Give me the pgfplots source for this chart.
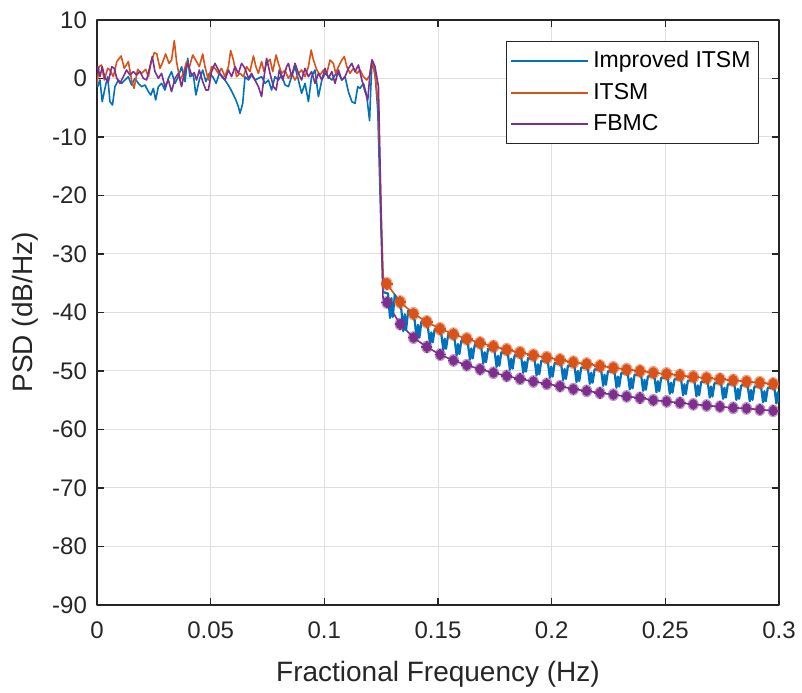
\documentclass[border=0pt]{standalone}
\usepackage{fontspec}
\setmainfont{Liberation Sans}
\usepackage{pgfplots}
\usepackage{pgfplotstable}
\pgfplotsset{compat=1.18}
\definecolor{mblue}{rgb}{0,0.447,0.741}
\definecolor{morange}{rgb}{0.850,0.325,0.098}
\definecolor{mpurple}{rgb}{0.494,0.184,0.556}
\definecolor{axgray}{rgb}{0.15,0.15,0.15}
\definecolor{gridgray}{rgb}{0.875,0.875,0.875}
\pgfplotstableread{
f v
0.1275 -35.1
0.13336 -38.2
0.13922 -40.2
0.14508 -41.6
0.15094 -42.8
0.1568 -43.7
0.16266 -44.5
0.16852 -45.2
0.17438 -45.8
0.18024 -46.35
0.1861 -46.85
0.19196 -47.3
0.19782 -47.7
0.20368 -48.1
0.20954 -48.5
0.2154 -48.8
0.22126 -49.15
0.22712 -49.45
0.23298 -49.75
0.23884 -50.0
0.2447 -50.3
0.25056 -50.5
0.25642 -50.75
0.26228 -51.0
0.26814 -51.2
0.274 -51.4
0.27986 -51.6
0.28572 -51.8
0.29158 -52.0
0.29744 -52.2
}\orangebeads
\pgfplotstableread{
f v
0.1275 -38.3
0.13336 -42.0
0.13922 -44.3
0.14508 -45.9
0.15094 -47.2
0.1568 -48.2
0.16266 -49.0
0.16852 -49.7
0.17438 -50.3
0.18024 -50.85
0.1861 -51.35
0.19196 -51.8
0.19782 -52.2
0.20368 -52.6
0.20954 -53.1
0.2154 -53.4
0.22126 -53.75
0.22712 -54.05
0.23298 -54.35
0.23884 -54.6
0.2447 -55.0
0.25056 -55.2
0.25642 -55.45
0.26228 -55.7
0.26814 -55.9
0.274 -56.1
0.27986 -56.3
0.28572 -56.4
0.29158 -56.6
0.29744 -56.8
}\purplebeads
\begin{document}
\begin{tikzpicture}
\begin{axis}[name=ax,
  scale only axis, width=341pt, height=292.5pt,
  xmin=0, xmax=0.3, ymin=-90, ymax=10,
  xtick={0,0.05,0.1,0.15,0.2,0.25,0.3},
  xticklabels={0,0.05,0.1,0.15,0.2,0.25,0.3},
  ytick={-90,-80,-70,-60,-50,-40,-30,-20,-10,0,10},
  yticklabels={-90,-80,-70,-60,-50,-40,-30,-20,-10,0,10},
  xtick pos=both, ytick pos=both,
  xticklabel pos=lower, yticklabel pos=left,
  tick align=inside, major tick length=3.5pt,
  tick style={axgray, line width=0.6pt},
  axis line style={axgray, line width=0.6pt},
  grid=major, major grid style={gridgray, line width=0.5pt},
  tick label style={font=\fontsize{12}{14}\selectfont, text=axgray},
  yticklabel style={xshift=-1.5pt},
  xticklabel style={yshift=-5pt},
  xlabel={Fractional Frequency (Hz)}, ylabel={PSD (dB/Hz)},
  label style={font=\fontsize{14}{16}\selectfont, text=axgray},
  xlabel style={at={(axis description cs:0.5,-0.1316)}, anchor=base},
  ylabel style={at={(axis description cs:-0.1056,0.5)}, anchor=center},
  legend style={at={(rel axis cs:0.9707,0.9646)}, anchor=north east,
    draw=axgray, line width=0.5pt, fill=white,
    font=\fontsize{11.5}{13.5}\selectfont,
    inner xsep=2pt, inner ysep=3pt, row sep=2.2pt},
  legend cell align=left,
  legend image code/.code={\draw[#1,line width=0.9pt] (0pt,0pt) -- (38.5pt,0pt);},
  line join=round,
]
% Improved ITSM (passband and transition)
\addplot[mblue, line width=0.8pt] coordinates {
(0,-0.26) (0.0003,-1.40) (0.0013,-0.26) (0.0023,-3.96) (0.0035,-1.68) (0.0047,0.31) (0.0057,-3.96) (0.0068,-4.53) (0.0079,-1.40) (0.0094,-0.26) (0.0108,-0.83) (0.0123,-0.26) (0.0138,0.31) (0.0152,-1.11) (0.0167,0.03) (0.0182,-0.83) (0.0196,-1.40) (0.0211,-1.11) (0.0226,-2.25) (0.0237,-2.82) (0.0248,-1.68) (0.0258,-3.68) (0.0270,-1.40) (0.0284,-0.83) (0.0299,-1.97) (0.0314,0.03) (0.0328,1.17) (0.0343,-0.83) (0.0358,0.31) (0.0372,2.02) (0.0387,-0.54) (0.0399,3.45) (0.0409,0.31) (0.0424,0.6) (0.0435,-2.82) (0.0450,-0.26) (0.0465,1.45) (0.0479,-0.54) (0.0494,0.88) (0.0509,0.31) (0.0524,-0.83) (0.0538,0.88) (0.0553,0.31) (0.0567,-0.54) (0.0582,-1.40) (0.0597,-2.54) (0.0611,-3.68) (0.0622,-4.82) (0.0629,-5.95) (0.0641,-4.25) (0.0651,0.31) (0.0666,-0.26) (0.0680,0.60) (0.0695,-0.26) (0.0710,0.03) (0.0724,0.31) (0.0739,-0.83) (0.0754,-0.26) (0.0768,-1.97) (0.0783,0.31) (0.0798,-0.26) (0.0812,0.60) (0.0827,-1.1) (0.0842,-1.40) (0.0856,0.31) (0.0871,2.02) (0.0886,-0.26) (0.0900,-2.54) (0.0915,-0.83) (0.0930,-3.96) (0.0944,0.31) (0.0959,1.45) (0.0974,-3.11) (0.0989,-0.26) (0.1003,0.88) (0.1018,0.31) (0.1033,-0.26) (0.1047,0.60) (0.1062,0.88) (0.1077,-0.26) (0.1091,0.31) (0.1106,-2.25) (0.1121,-3.96) (0.1135,-4.25) (0.1147,-1.40) (0.1157,-1.68) (0.1172,-0.83) (0.1186,-2.82) (0.1199,-7.2) (0.1204,-2.0) (0.1210,3.1) (0.1223,0.88) (0.1235,-5.4) (0.1248,-24) (0.1258,-36.5)
};
\addlegendentry{Improved ITSM}
% ITSM
\addplot[morange, line width=0.8pt] coordinates {
(0,-1.1) (0.0009,2.02) (0.0020,2.31) (0.0032,-0.26) (0.0047,1.74) (0.0057,1.45) (0.0072,0.31) (0.0087,2.88) (0.0106,3.85) (0.0120,1.74) (0.0138,2.88) (0.0152,-0.26) (0.0163,-1.68) (0.0179,1.57) (0.0196,0.88) (0.0214,1.57) (0.0226,0.31) (0.0237,2.59) (0.0252,4.42) (0.0263,4.19) (0.0277,1.74) (0.0287,2.59) (0.0302,4.19) (0.0317,2.59) (0.0328,3.16) (0.0340,6.47) (0.0350,2.88) (0.0365,-0.26) (0.0380,0.88) (0.0394,2.88) (0.0405,1.74) (0.0421,4.02) (0.0438,2.88) (0.0450,2.02) (0.0465,4.19) (0.0475,2.02) (0.0490,-0.26) (0.0504,2.02) (0.0519,1.74) (0.0534,0.88) (0.0548,1.74) (0.0563,0.31) (0.0578,2.02) (0.0588,4.76) (0.0600,3.16) (0.0614,0.31) (0.0629,0.88) (0.0644,0.31) (0.0658,2.02) (0.0673,1.17) (0.0688,3.85) (0.0699,2.02) (0.0710,0.88) (0.0724,2.88) (0.0735,1.17) (0.0746,2.59) (0.0761,3.28) (0.0773,1.17) (0.0788,4.02) (0.0798,2.59) (0.0812,0.88) (0.0827,1.4) (0.0842,0.03) (0.0856,0.88) (0.0871,-0.26) (0.0886,0.88) (0.0900,1.45) (0.0915,0.31) (0.0930,2.02) (0.0942,4.87) (0.0952,3.16) (0.0967,1.45) (0.0981,0.60) (0.0996,1.45) (0.1011,0.88) (0.1025,3.16) (0.1040,2.59) (0.1050,0.88) (0.1062,2.02) (0.1077,3.16) (0.1088,3.73) (0.1099,2.02) (0.1113,0.88) (0.1128,1.74) (0.1143,0.88) (0.1157,1.45) (0.1172,0.31) (0.1186,-0.26) (0.1199,0.5) (0.1209,3.0) (0.1216,2.02) (0.1226,-0.26) (0.1238,-4.82) (0.1250,-23) (0.1259,-34.0)
(0.1275,-35.1) (0.13336,-38.2) (0.13922,-40.2) (0.14508,-41.6) (0.15094,-42.8) (0.1568,-43.7) (0.16266,-44.5) (0.16852,-45.2) (0.17438,-45.8) (0.18024,-46.35) (0.1861,-46.85) (0.19196,-47.3) (0.19782,-47.7) (0.20368,-48.1) (0.20954,-48.5) (0.2154,-48.8) (0.22126,-49.15) (0.22712,-49.45) (0.23298,-49.75) (0.23884,-50.0) (0.2447,-50.3) (0.25056,-50.5) (0.25642,-50.75) (0.26228,-51.0) (0.26814,-51.2) (0.274,-51.4) (0.27986,-51.6) (0.28572,-51.8) (0.29158,-52.0) (0.29744,-52.2) (0.3,-52.3)
};
\addlegendentry{ITSM}
% FBMC
\addplot[mpurple, line width=0.8pt] coordinates {
(0,1.45) (0.0003,2.02) (0.0013,0.31) (0.0023,2.02) (0.0035,0.03) (0.0050,-0.54) (0.0065,2.02) (0.0076,1.74) (0.0087,0.03) (0.0101,-0.83) (0.0116,0.31) (0.0130,1.45) (0.0145,0.60) (0.0160,1.17) (0.0174,0.60) (0.0189,1.17) (0.0204,0.03) (0.0218,-0.26) (0.0233,2.02) (0.0243,3.73) (0.0255,1.17) (0.0270,0.03) (0.0284,0.88) (0.0299,-1.40) (0.0314,-0.26) (0.0328,-2.25) (0.0343,0.03) (0.0358,0.88) (0.0372,-1.40) (0.0384,0.88) (0.0399,2.59) (0.0416,0.60) (0.0428,1.0) (0.0438,-0.26) (0.0450,1.45) (0.0465,-0.54) (0.0479,-1.97) (0.0490,-1.97) (0.0504,1.17) (0.0519,2.59) (0.0534,1.45) (0.0548,0.31) (0.0563,-0.26) (0.0578,1.45) (0.0592,0.31) (0.0607,2.02) (0.0622,0.88) (0.0636,2.59) (0.0651,1.74) (0.0666,0.03) (0.0680,0.88) (0.0695,-0.26) (0.0710,-1.40) (0.0724,-3.11) (0.0735,0.31) (0.0746,3.45) (0.0761,0.88) (0.0776,-1.40) (0.0788,-1.97) (0.0802,1.45) (0.0817,-0.26) (0.0834,2.02) (0.0842,2.59) (0.0856,0.31) (0.0871,2.59) (0.0886,0.88) (0.0900,-0.26) (0.0915,1.74) (0.0930,0.31) (0.0944,1.17) (0.0959,-0.83) (0.0974,0.88) (0.0989,-0.26) (0.1003,1.74) (0.1018,0.03) (0.1033,1.17) (0.1047,-0.83) (0.1062,1.45) (0.1077,-0.26) (0.1091,0.31) (0.1106,1.74) (0.1121,2.59) (0.1135,1.17) (0.1150,2.31) (0.1165,-0.26) (0.1179,-2.25) (0.1191,-3.68) (0.1201,0.88) (0.1210,3.2) (0.1223,2.02) (0.1238,-1.40) (0.1249,-22) (0.1258,-37.5)
(0.1275,-38.3) (0.13336,-42.0) (0.13922,-44.3) (0.14508,-45.9) (0.15094,-47.2) (0.1568,-48.2) (0.16266,-49.0) (0.16852,-49.7) (0.17438,-50.3) (0.18024,-50.85) (0.1861,-51.35) (0.19196,-51.8) (0.19782,-52.2) (0.20368,-52.6) (0.20954,-53.1) (0.2154,-53.4) (0.22126,-53.75) (0.22712,-54.05) (0.23298,-54.35) (0.23884,-54.6) (0.2447,-55.0) (0.25056,-55.2) (0.25642,-55.45) (0.26228,-55.7) (0.26814,-55.9) (0.274,-56.1) (0.27986,-56.3) (0.28572,-56.4) (0.29158,-56.6) (0.29744,-56.8) (0.3,-56.9)
};
\addlegendentry{FBMC}
% Improved ITSM stopband ripple teeth
\addplot[forget plot, mblue, line width=1.1pt] coordinates {
(0.1258,-36.5)
(0.1280,-36.75) (0.1289,-40.95) (0.1295,-37.55) (0.1301,-40.75) (0.1310,-36.95)
(0.13386,-39.5) (0.13476,-43.2) (0.13536,-40.3) (0.13596,-43.0) (0.13686,-39.7)
(0.13972,-41.3) (0.14062,-44.5) (0.14122,-42.1) (0.14182,-44.3) (0.14272,-41.5)
(0.14558,-42.6) (0.14648,-45.3) (0.14708,-43.4) (0.14768,-45.1) (0.14858,-42.8)
(0.15144,-43.7) (0.15234,-46.4) (0.15294,-44.5) (0.15354,-46.2) (0.15444,-43.9)
(0.1573,-44.6) (0.1582,-47.3) (0.1588,-45.4) (0.1594,-47.1) (0.1603,-44.8)
(0.16316,-45.35) (0.16406,-48.05) (0.16466,-46.15) (0.16526,-47.85) (0.16616,-45.55)
(0.16902,-46.0) (0.16992,-48.7) (0.17052,-46.8) (0.17112,-48.5) (0.17202,-46.2)
(0.17488,-46.6) (0.17578,-49.3) (0.17638,-47.4) (0.17698,-49.1) (0.17788,-46.8)
(0.18074,-47.1) (0.18164,-49.8) (0.18224,-47.9) (0.18284,-49.6) (0.18374,-47.3)
(0.1866,-47.6) (0.1875,-50.3) (0.1881,-48.4) (0.1887,-50.1) (0.1896,-47.8)
(0.19246,-48.05) (0.19336,-50.75) (0.19396,-48.85) (0.19456,-50.55) (0.19546,-48.25)
(0.19832,-48.45) (0.19922,-51.15) (0.19982,-49.25) (0.20042,-50.95) (0.20132,-48.65)
(0.20418,-48.85) (0.20508,-51.55) (0.20568,-49.65) (0.20628,-51.35) (0.20718,-49.05)
(0.21004,-49.2) (0.21094,-51.9) (0.21154,-50.0) (0.21214,-51.7) (0.21304,-49.4)
(0.2159,-49.5) (0.2168,-52.2) (0.2174,-50.3) (0.218,-52.0) (0.2189,-49.7)
(0.22176,-49.85) (0.22266,-52.55) (0.22326,-50.65) (0.22386,-52.35) (0.22476,-50.05)
(0.22762,-50.15) (0.22852,-52.85) (0.22912,-50.95) (0.22972,-52.65) (0.23062,-50.35)
(0.23348,-50.45) (0.23438,-53.15) (0.23498,-51.25) (0.23558,-52.95) (0.23648,-50.65)
(0.23934,-50.7) (0.24024,-53.4) (0.24084,-51.5) (0.24144,-53.2) (0.24234,-50.9)
(0.2452,-50.95) (0.2461,-53.65) (0.2467,-51.75) (0.2473,-53.45) (0.2482,-51.15)
(0.25106,-51.2) (0.25196,-53.9) (0.25256,-52.0) (0.25316,-53.7) (0.25406,-51.4)
(0.25692,-51.45) (0.25782,-54.15) (0.25842,-52.25) (0.25902,-53.95) (0.25992,-51.65)
(0.26278,-51.65) (0.26368,-54.35) (0.26428,-52.45) (0.26488,-54.15) (0.26578,-51.85)
(0.26864,-51.85) (0.26954,-54.55) (0.27014,-52.65) (0.27074,-54.35) (0.27164,-52.05)
(0.2745,-52.05) (0.2754,-54.75) (0.276,-52.85) (0.2766,-54.55) (0.2775,-52.25)
(0.28036,-52.25) (0.28126,-54.95) (0.28186,-53.05) (0.28246,-54.75) (0.28336,-52.45)
(0.28622,-52.45) (0.28712,-55.15) (0.28772,-53.25) (0.28832,-54.95) (0.28922,-52.65)
(0.29208,-52.65) (0.29298,-55.35) (0.29358,-53.45) (0.29418,-55.15) (0.29508,-52.85)
(0.29794,-52.85) (0.29884,-55.55) (0.29944,-53.65) (0.30004,-55.35)
};
% ripple beads (ITSM)
\addplot[forget plot, only marks, morange, mark=*, mark size=3.0pt,
  mark options={fill=morange, fill opacity=0.5, draw opacity=0, yscale=1.15}] table[x=f,y=v] {\orangebeads};
\addplot[forget plot, only marks, morange, mark=*, mark size=2.2pt,
  mark options={fill=morange, draw=morange, yscale=1.15}] table[x=f,y=v] {\orangebeads};
\addplot[forget plot, only marks, morange, mark=+, mark size=3.0pt,
  mark options={draw=morange, line width=0.7pt}] table[x=f,y=v] {\orangebeads};
% ripple beads (FBMC)
\addplot[forget plot, only marks, mpurple, mark=*, mark size=2.8pt,
  mark options={fill=mpurple, fill opacity=0.5, draw opacity=0, yscale=1.15}] table[x=f,y=v] {\purplebeads};
\addplot[forget plot, only marks, mpurple, mark=*, mark size=2.0pt,
  mark options={fill=mpurple, draw=mpurple, yscale=1.15}] table[x=f,y=v] {\purplebeads};
\addplot[forget plot, only marks, mpurple, mark=+, mark size=2.8pt,
  mark options={draw=mpurple, line width=0.7pt}] table[x=f,y=v] {\purplebeads};
\end{axis}
\pgfresetboundingbox
\path[use as bounding box] ([xshift=-48.5pt,yshift=-44pt]ax.south west) rectangle ([xshift=11.5pt,yshift=10pt]ax.north east);
\end{tikzpicture}
\end{document}
